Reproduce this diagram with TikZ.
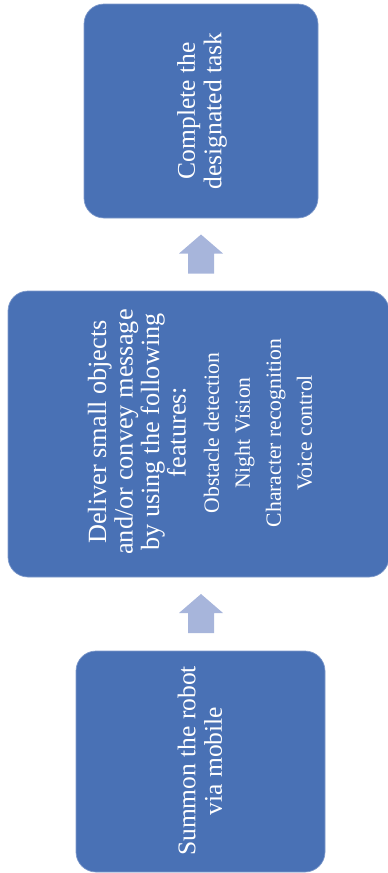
\documentclass[tikz,border=0pt]{standalone}
\usepackage{fontspec}
\setmainfont{Liberation Serif}
\definecolor{boxblue}{HTML}{4971B5}
\definecolor{boxedge}{HTML}{7F9ACB}
\definecolor{arrowblue}{HTML}{A7B5DB}
\begin{document}
\begin{tikzpicture}[x=1pt,y=1pt,
  stepbox/.style={draw=boxedge, line width=0.7pt, fill=boxblue, rounded corners=20pt, inner sep=0pt},
  boxtext/.style={text=white, rotate=90, align=center, inner sep=0pt},
  bigtext/.style={font=\fontsize{25.5}{26.5}\selectfont},
  midtext/.style={font=\fontsize{26.3}{26.5}\selectfont},
  listtext/.style={font=\fontsize{21.7}{31}\selectfont},
  blockarrow/.style={fill=arrowblue}]
\useasboundingbox (0,0) rectangle (388,-873);
% boxes
\node[stepbox, minimum width=234pt, minimum height=214pt] (done) at (201,-111) {};
\node[stepbox, minimum width=381pt, minimum height=286pt] (deliver) at (198.5,-434) {};
\node[stepbox, minimum width=249pt, minimum height=221pt] (summon) at (200.5,-761.5) {};
% texts
\node[boxtext, bigtext] (donetxt) at (202,-111) {Complete the\\designated task};
\node[boxtext, midtext] (delivertxt) at (137,-432) {Deliver small objects\\and/or convey message\\by using the following\\features:};
\node[boxtext, listtext] (featurelist) at (258,-433) {Obstacle detection\\Night Vision\\Character recognition\\Voice control};
\node[boxtext, bigtext] (summontxt) at (200,-761) {Summon the robot\\via mobile};
% arrows
\coordinate (arrowA) at (201,-254);
\coordinate (arrowB) at (201,-613.5);
\foreach \c in {arrowA,arrowB}{
  \fill[blockarrow] ([shift={(0,19.5)}]\c) -- ([shift={(22,0.5)}]\c) -- ([shift={(13,0.5)}]\c)
    -- ([shift={(13,-19.5)}]\c) -- ([shift={(-13,-19.5)}]\c) -- ([shift={(-13,0.5)}]\c)
    -- ([shift={(-22,0.5)}]\c) -- cycle;
}
\end{tikzpicture}
\end{document}
